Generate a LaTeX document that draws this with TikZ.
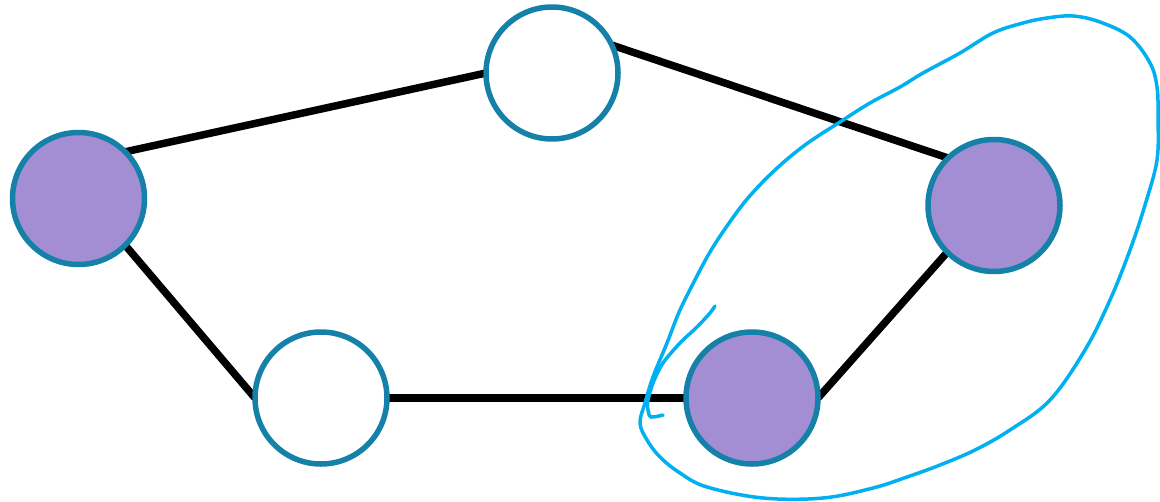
\documentclass[tikz,border=0pt]{standalone}
\usetikzlibrary{backgrounds}
\definecolor{ringblue}{HTML}{1581A9}
\definecolor{nodepurple}{HTML}{A38ED3}
\definecolor{penblue}{HTML}{00B0F0}
\begin{document}
\begin{tikzpicture}[x=1pt,y=-1pt,
  vert/.style={circle,draw=ringblue,line width=5.5pt,minimum size=132pt,inner sep=0pt,outer sep=0pt},
  filled/.style={vert,fill=nodepurple},
  hollow/.style={vert,fill=white},
  edge/.style={line width=7.5pt,black},
  pen/.style={penblue,line width=3.5pt,line cap=round,line join=round}]
\useasboundingbox (0,0) rectangle (1160,501);
\node[filled] (A) at (78.5,198.5) {};
\node[hollow] (B) at (552,73) {};
\node[filled] (C) at (994,205.5) {};
\node[hollow] (D) at (321,398) {};
\node[filled] (E) at (752,398) {};
\begin{pgfonlayer}{background}
\draw[edge] (A.45) -- (B.180);
\draw[edge] (B.25) -- (C.134);
\draw[edge] (C.225) -- (E.east);
\draw[edge] (E.west) -- (D.east);
\draw[edge] (D.west) -- (A.-45);
\end{pgfonlayer}
\draw[pen] plot[smooth,tension=0.6] coordinates {(697,276) (680,310) (667,343) (653,377) (645,403) (640,423) (647,440) (660,457) (680,473) (707,487) (763,498) (823,498) (873,488) (907,477) (940,465) (975,450) (1010,430) (1050,400) (1085,350) (1110,300) (1130,250) (1145,205) (1157,160) (1158,117) (1157,87) (1150,63) (1130,37) (1100,22) (1073,16) (1047,18) (1023,23) (993,33) (960,53) (923,73) (900,87) (870,103) (840,122) (805,145) (775,170) (748,198) (727,226) (710,252) (697,276)};
\draw[pen] plot[smooth,tension=0.5] coordinates {(663,415) (651,417) (648,410) (648,400) (653,383) (663,363) (680,343) (697,327) (710,313) (715,306)};
\end{tikzpicture}
\end{document}
